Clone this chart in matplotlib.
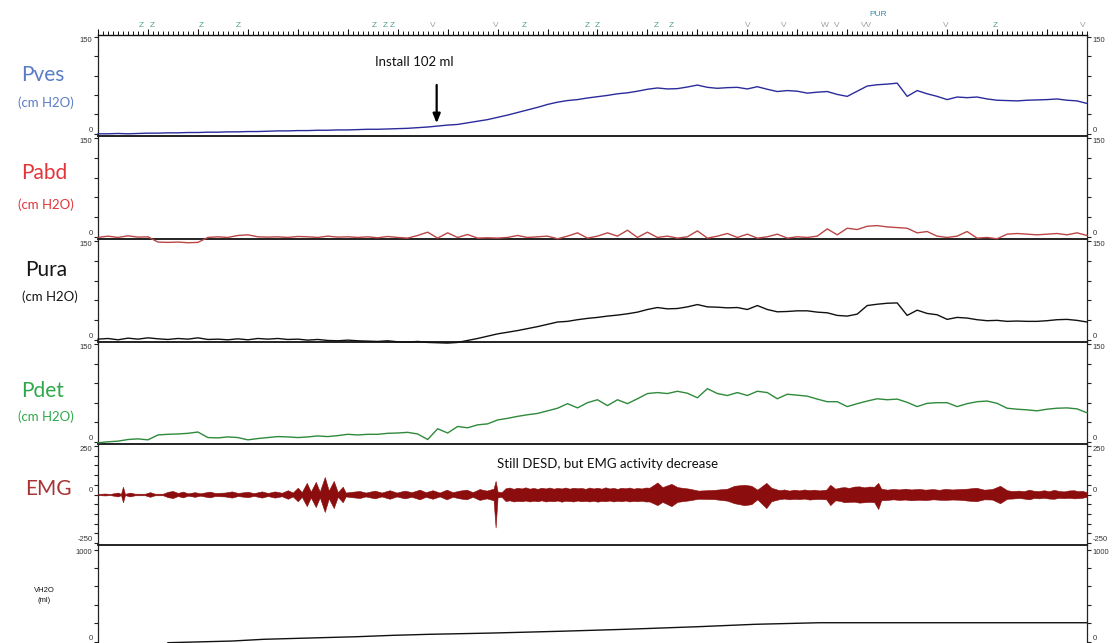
import numpy as np
import matplotlib
matplotlib.use("Agg")
import matplotlib.pyplot as plt
from matplotlib.ticker import MultipleLocator

# ---------------- data (time in s) ----------------
t = np.arange(0, 1000, 10)

pves = [0, 0, 0.5, 0, 0.5, 1, 1, 1.5, 1.5, 2,
        2, 2.5, 2.5, 3, 3, 3.5, 3.5, 4, 4.5, 4.5,
        5, 5, 5.5, 5.5, 6, 6, 6.5, 7, 7, 7.5,
        8, 8.5, 9.5, 10.5, 12, 13.5, 14.5, 17, 19.5, 22,
        25.5, 29, 33, 37, 41, 45.5, 49, 51.5, 53, 55.5,
        57.5, 59.5, 62, 63.5, 66, 69, 71, 69.5, 70, 72.5,
        75.5, 72, 70.5, 71.5, 72, 69.5, 73, 69, 65.5, 67,
        66, 63, 64.5, 65.5, 61, 58, 66, 74, 76, 77,
        78.5, 58, 67, 62, 58, 53, 57, 56, 57, 54,
        52, 51.5, 51, 52, 52.5, 53, 54, 52, 51, 47]

pabd = [-1, 1, -1, 1.5, -0.5, 0, -8, -8.5, -8, -9,
        -8.5, -1, 0, -1, 2, 3, 0, -0.5, 0, -1,
        0.5, 0, -1, 1, -0.5, 0, -1, 0, -1.5, 0.5,
        -1, -2, 2, 7, -2, 6, -1, 3.5, -2, -1.5,
        -2, -1, 2, -1, 0, 1, -3, 1, 6, -2,
        1, 6, 1, 10, -1, 7, -1, 1, -2, 0,
        9, -2, 1, 5, -1, 4, -2, 0, 4, -2,
        0, -1, 1, 12, 3, 13, 11, 16, 17, 15,
        14, 13, 6, 8, 1, -1, 1, 8, -2, -1,
        -3, 4, 5, 4, 3, 4, 5, 3, 6, 2]

pura = [1, 2, 0, 2.5, 1, 3, 1.5, 0.5, 2, 1,
        3, 0.5, 1, 0, 1.5, 0, 2, 1, 2, 0.5,
        1, -0.5, 0.5, -1, -1.5, -0.5, -1.5, -2, -2.5, -1.5,
        -3, -3.5, -2.5, -4, -4.5, -5, -4, -1, 2, 5.5,
        9, 11.5, 14, 17, 20, 23.5, 27, 28, 30.5, 32.5,
        34, 36, 37.5, 39.5, 42, 46, 49, 47, 47.5, 50,
        53.5, 50, 49.5, 48.5, 49, 46, 52, 46, 42.5, 43,
        44, 44, 42, 41, 37, 36, 39, 52, 54, 55.5,
        56, 37, 45, 40, 38, 31, 34, 33, 30.5, 29,
        29.5, 28, 28.5, 28, 28, 29, 30.5, 31, 29.5, 27]

pdet = [-1.5, 0, 1, 3.5, 4.5, 3, 10.5, 11.5, 12, 13,
        15, 6.5, 6, 7.5, 6.5, 3, 5, 6.5, 8, 7.5,
        6.5, 7.5, 9, 8, 9.5, 11.5, 10.5, 11.5, 11.5, 13,
        13.5, 14.5, 12, 3.5, 20, 13.5, 23.5, 21.5, 26, 27.5,
        33.5, 36, 39, 41.5, 43.5, 47.5, 51.5, 58.5, 52, 60,
        64.5, 55.5, 64.5, 58.5, 66, 74, 75.5, 74, 77.5, 74.5,
        67.5, 81.5, 74, 71, 75.5, 71, 77.5, 75.5, 66, 73,
        71.5, 70, 65.5, 61.5, 61.5, 54, 58.5, 62.5, 66, 64.5,
        65.5, 60.5, 54, 59, 60, 60, 54, 58.5, 61.5, 62.5,
        59, 51.5, 50, 49, 47.5, 50, 51.5, 52, 50.5, 44.5]

# EMG envelope (upper / lower), uV
emg_t = [0, 7, 12, 20, 23, 25, 27, 32, 37, 47, 52, 57, 65, 70, 75, 80, 85, 90,
         97, 102, 112, 117, 127, 134, 140, 150, 156, 164, 170, 177, 184, 190,
         195, 200, 204, 209, 213, 218, 222, 227, 231, 236, 240, 245, 248, 254,
         262, 268, 277, 284, 292, 299, 307, 314, 322, 328, 335, 342, 349, 355,
         362, 369, 375, 382, 389, 396, 398, 400, 404,
         408, 412, 416, 420, 424, 428, 432, 436, 440, 444, 448, 452, 456, 460,
         464, 468, 472, 476, 480, 484, 488, 492, 496, 500, 504, 508, 512, 516,
         520, 524, 528, 532, 536, 540, 544, 548, 552,
         560, 565, 574, 580, 592, 601, 617, 630, 637, 647, 654, 660, 669, 674,
         682, 687, 692, 697, 702, 707, 712, 717, 722, 729,
         733, 738, 743, 747, 752, 757, 762, 767, 772, 777, 781, 784,
         790, 796, 802, 808, 814, 822, 828, 836, 842, 848, 855, 862, 870, 879,
         887, 895, 903, 910,
         915, 922, 927, 932, 937, 942, 947, 952, 957, 962, 967, 972, 977, 981,
         985, 990]
emg_hi = [3, 5, 3, 10, 3, 40, 3, 10, 4, 4, 12, 4, 4, 14, 18, 8, 15, 6,
          12, 6, 15, 8, 10, 16, 8, 14, 7, 16, 8, 16, 9, 22,
          10, 35, 12, 60, 15, 65, 15, 90, 20, 70, 12, 40, 10, 14,
          18, 10, 20, 10, 22, 10, 20, 12, 25, 12, 22, 10, 25, 12,
          20, 25, 12, 28, 20, 30, 70, 15, 12,
          32, 36, 29, 35, 31, 37, 30, 34, 29, 35, 31, 36, 30, 34,
          31, 36, 30, 35, 32, 34, 29, 36, 31, 35, 30, 37, 31, 34,
          29, 35, 32, 36, 30, 34, 31, 36, 35,
          62, 38, 55, 38, 30, 20, 24, 30, 45, 50, 45, 25, 60, 35,
          22, 26, 20, 25, 21, 26, 22, 25, 21, 25,
          50, 30, 36, 38, 34, 41, 42, 37, 41, 40, 60, 30,
          25, 29, 26, 30, 26, 29, 25, 28, 24, 29, 26, 28, 30, 35,
          25, 28, 45, 22,
          18, 20, 17, 25, 19, 18, 22, 17, 24, 18, 16, 21, 22, 17,
          19, 12]
emg_lo = [-3, -5, -3, -10, -3, -40, -3, -10, -4, -4, -12, -4, -4, -14, -18, -8, -15, -6,
          -12, -6, -15, -8, -10, -16, -8, -14, -7, -16, -8, -16, -9, -22,
          -10, -35, -12, -60, -15, -65, -15, -90, -20, -70, -12, -40, -10, -14,
          -18, -10, -20, -10, -22, -10, -20, -12, -25, -12, -22, -10, -25, -12,
          -20, -25, -12, -28, -20, -30, -170, -15, -12,
          -34, -30, -36, -33, -35, -31, -36, -32, -35, -30, -36, -33, -35, -31,
          -37, -32, -34, -36, -31, -35, -33, -36, -32, -37, -33, -35, -31, -36,
          -32, -35, -31, -36, -33, -35, -32, -36, -36,
          -55, -38, -60, -38, -30, -22, -24, -32, -45, -55, -50, -25, -70, -35,
          -24, -21, -25, -22, -24, -21, -26, -24, -23, -25,
          -55, -30, -33, -40, -38, -37, -42, -40, -38, -40, -75, -30,
          -28, -25, -28, -26, -30, -27, -29, -25, -27, -28, -26, -27, -31, -35,
          -25, -26, -45, -22,
          -21, -18, -21, -25, -18, -20, -17, -21, -22, -17, -19, -17, -20, -19,
          -17, -12]

vh2o_t = [70, 134, 166, 202, 259, 295, 331, 395, 462, 529, 601, 658, 722, 990]
vh2o = [-13, 5, 24, 35, 52, 67, 78, 92, 111, 133, 161, 187, 204, 204]

marker_t = [43, 54, 103, 140, 277, 288, 295, 335, 398, 427, 490, 500, 559, 574,
            650, 686, 728, 740, 769, 849, 898, 986]
marker_lbl = ["Z", "Z", "Z", "Z", "Z", "Z", "Z", "V", "V", "Z", "Z", "Z", "Z", "Z",
              "V", "V", "W", "V", "VV", "V", "Z", "V"]

# ---------------- layout ----------------
W, H = 1116, 643
fig = plt.figure(figsize=(W / 100, H / 100), dpi=100)
LEFT, RIGHT = 98, 1087
XMAX = 990

TICKFAM = ["Liberation Sans", "DejaVu Sans"]
LBLFONT = ["Lato", "DejaVu Sans"]


def add_panel(top, bot):
    return fig.add_axes([LEFT / W, 1 - bot / H, (RIGHT - LEFT) / W, (bot - top) / H])


def style_panel(ax, hi, major, minor, ylim):
    ax.set_xlim(0, XMAX)
    ax.set_ylim(*ylim)
    ax.patch.set_alpha(0)
    ax.spines["top"].set_visible(False)
    for s in ("left", "right"):
        ax.spines[s].set_color("#222222")
        ax.spines[s].set_linewidth(0.9)
    ax.spines["bottom"].set_color("#111111")
    ax.spines["bottom"].set_linewidth(1.3)
    ax.set_xticks([])
    ax.set_yticks(major)
    ax.set_yticks(minor, minor=True)
    ax.set_yticklabels([str(m) for m in major])
    ax.tick_params(axis="y", which="both", left=True, right=True, labelleft=True,
                   labelright=True, direction="out", length=3.2, width=0.8,
                   color="#222222", pad=0.8, labelsize=5.5, labelcolor="#333333")
    for tk, val in zip(ax.yaxis.get_major_ticks(), major):
        for lab in (tk.label1, tk.label2):
            lab.set_family(TICKFAM)
            lab.set_va("top" if val == hi else "bottom")


def ylim_for(lo, hi, h, pad_bot=2.2, pad_top=2.0):
    u = (hi - lo) / (h - pad_bot - pad_top)
    return (lo - pad_bot * u, hi + pad_top * u)


panels = [
    ("Pves", "#5a7cc6", 35, 136, pves, "#2b2b9c"),
    ("Pabd", "#e3343a", 136, 239, pabd, "#bb4646"),
    ("Pura", "#151515", 239, 342, pura, "#111111"),
    ("Pdet", "#2ea84a", 342, 444, pdet, "#2f8a3c"),
]
label_y = {"Pves": (75, 103), "Pabd": (173, 205), "Pura": (270, 297), "Pdet": (391, 417)}
label_x = {"Pves": (43, 46), "Pabd": (44, 46), "Pura": (46, 50), "Pdet": (43, 46)}

axes = {}
for name, lcol, top, bot, data, tcol in panels:
    ax = add_panel(top, bot)
    style_panel(ax, 150, [0, 150], [30, 60, 90, 120], ylim_for(0, 150, bot - top))
    ax.plot(t, data, color=tcol, lw=1.0, clip_on=False, zorder=3)
    axes[name] = ax
    fig.text(label_x[name][0] / W, 1 - label_y[name][0] / H, name, color=lcol,
             fontsize=15, family=LBLFONT, ha="center", va="center")
    fig.text(label_x[name][1] / W, 1 - label_y[name][1] / H, "(cm H2O)", color=lcol,
             fontsize=9.5, family=LBLFONT, ha="center", va="center")

# EMG panel
ax_emg = add_panel(444, 545)
style_panel(ax_emg, 250, [-250, 0, 250], [-200, -150, -100, -50, 50, 100, 150, 200],
            ylim_for(-250, 250, 101, 2.0, 2.0))
ax_emg.fill_between(emg_t, emg_lo, emg_hi, color="#8b0d0d", lw=0.4, zorder=3)
fig.text(48 / W, 1 - 489 / H, "EMG", color="#a83434", fontsize=15, family=LBLFONT,
         ha="center", va="center")
ax_emg.text(399, 157, "Still DESD, but EMG activity decrease", fontsize=9.5,
            family=LBLFONT, ha="left", va="center", color="#111111")

# Volume panel
ax_v = add_panel(545, 643)
style_panel(ax_v, 1000, [0, 1000], [200, 400, 600, 800],
            ylim_for(0, 1000, 98, 1.5, 4.5))
ax_v.spines["bottom"].set_visible(False)
ax_v.plot(vh2o_t, vh2o, color="#111111", lw=1.0, zorder=3)
fig.text(44 / W, 1 - 590 / H, "VH2O", color="#111111", fontsize=5.5,
         family=TICKFAM, ha="center", va="center")
fig.text(44 / W, 1 - 601 / H, "(ml)", color="#111111", fontsize=5.5,
         family=TICKFAM, ha="center", va="center")

# annotation on Pves
ax_p = axes["Pves"]
ax_p.annotate("", xy=(339, 12), xytext=(339, 80),
              arrowprops=dict(arrowstyle="-|>,head_width=0.22,head_length=0.55",
                              lw=1.6, color="black"))
ax_p.text(317, 112, "Install 102 ml", fontsize=9.5, family=LBLFONT, ha="center",
          va="center", color="#111111")

# top ruler with event markers
ax_r = fig.add_axes([LEFT / W, 1 - 35 / H, (RIGHT - LEFT) / W, 35 / H])
ax_r.set_xlim(0, XMAX)
ax_r.set_ylim(0, 35)
ax_r.patch.set_alpha(0)
for s in ("top", "left", "right"):
    ax_r.spines[s].set_visible(False)
ax_r.spines["bottom"].set_linewidth(1.0)
ax_r.spines["bottom"].set_color("#111111")
ax_r.set_yticks([])
ax_r.xaxis.set_major_locator(MultipleLocator(50))
ax_r.xaxis.set_minor_locator(MultipleLocator(5))
ax_r.tick_params(axis="x", which="major", direction="in", length=4.5, width=0.8,
                 labelbottom=False, color="#111111")
ax_r.tick_params(axis="x", which="minor", direction="in", length=2.6, width=0.7,
                 color="#111111")
for xm, lb in zip(marker_t, marker_lbl):
    col = "#4e9f90" if lb == "Z" else "#98a2a8"
    ax_r.text(xm, 9.5, lb, color=col, fontsize=6, family=TICKFAM,
              ha="center", va="center")
ax_r.text(781, 20, "PUR", color="#3b8ea6", fontsize=6, family=TICKFAM,
          ha="center", va="center")

fig.savefig("out.png", dpi=100)
